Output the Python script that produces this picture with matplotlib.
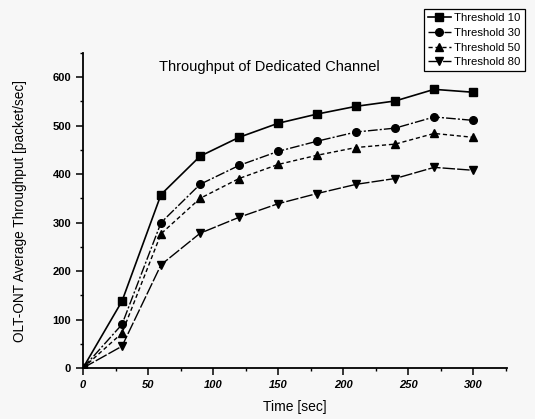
import matplotlib.pyplot as plt
import numpy as np

# temps (s)
t = [0, 30, 60, 90, 120, 150, 180, 210, 240, 270, 300]

# debit moyen OLT-ONT (packet/sec)
th10 = [0, 138, 358, 437, 476, 505, 524, 540, 551, 575, 569]
th30 = [0, 90, 300, 379, 418, 447, 468, 487, 495, 518, 511]
th50 = [0, 72, 277, 350, 391, 420, 439, 455, 462, 484, 476]
th80 = [0, 45, 213, 278, 311, 339, 360, 379, 391, 414, 408]

labels = ['Threshold 10', 'Threshold 30', 'Threshold 50', 'Threshold 80']

plt.rcParams['font.family'] = ['Liberation Sans', 'DejaVu Sans']

fig = plt.figure(figsize=(5.35, 4.19), dpi=100, facecolor='#f7f7f7')
ax = fig.add_axes([83/535, 1 - 368/419, (507 - 83)/535, (368 - 53)/419])
ax.set_facecolor('#f7f7f7')

ax.plot(t, th10, color='black', lw=1.2, ls='-', marker='s', ms=5.5, label=labels[0])
ax.plot(t, th30, color='black', lw=1.0, ls=(0, (7, 1.5, 1.5, 1.5)), marker='o', ms=5.5, label=labels[1])
ax.plot(t, th50, color='black', lw=1.0, ls=(0, (3, 2)), marker='^', ms=5.5, label=labels[2])
ax.plot(t, th80, color='black', lw=1.0, ls=(0, (9, 1.5)), marker='v', ms=6, label=labels[3])

ax.set_xlim(0, 326)
ax.set_ylim(0, 650)
ax.set_xticks(np.arange(0, 301, 50))
ax.set_xticks(np.arange(0, 326, 25), minor=True)
ax.set_yticks(np.arange(0, 601, 100))
ax.set_yticks(np.arange(0, 651, 50), minor=True)
ax.spines['top'].set_visible(False)
ax.spines['right'].set_visible(False)
ax.spines['left'].set_linewidth(1.3)
ax.spines['bottom'].set_linewidth(1.3)
ax.tick_params(which='major', direction='out', length=5, width=1.1)
ax.tick_params(which='minor', direction='out', length=2.5, width=1)
for lab in ax.get_xticklabels():
    lab.set_fontstyle('italic')
    lab.set_fontweight('bold')
    lab.set_fontsize(8)
for lab in ax.get_yticklabels():
    lab.set_fontweight('bold')
    lab.set_fontsize(8)

ax.text(0.44, 0.955, 'Throughput of Dedicated Channel', transform=ax.transAxes,
        ha='center', va='center', fontsize=10.5)
ax.set_xlabel('Time [sec]', fontsize=10, labelpad=7)
ax.set_ylabel('OLT-ONT Average Throughput [packet/sec]', fontsize=9.8, labelpad=18)

leg = fig.legend(loc='upper left', bbox_to_anchor=(424/535, 1 - 9/419),
                 fontsize=8.2, handlelength=2.0, handletextpad=0.3,
                 labelspacing=0.42, borderpad=0.35, borderaxespad=0,
                 fancybox=False, facecolor='white', edgecolor='black',
                 framealpha=1)
leg.get_frame().set_linewidth(0.9)

fig.savefig('out.png', dpi=100, facecolor=fig.get_facecolor())
